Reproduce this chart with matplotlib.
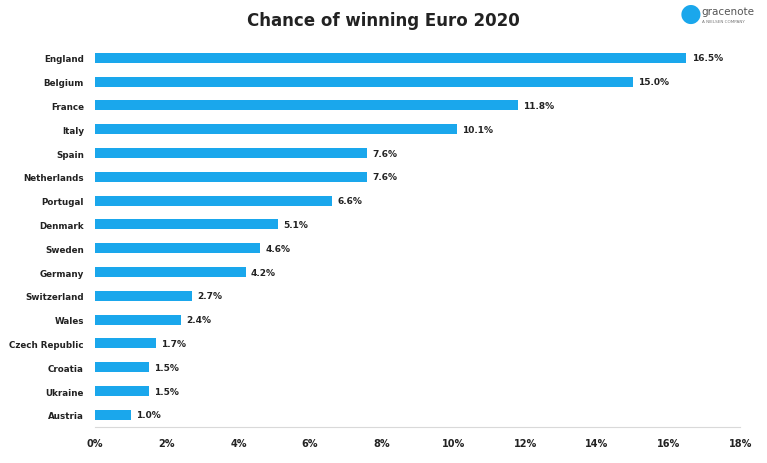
import matplotlib.pyplot as plt
from matplotlib.ticker import FuncFormatter

teams = ['England', 'Belgium', 'France', 'Italy', 'Spain', 'Netherlands', 'Portugal',
         'Denmark', 'Sweden', 'Germany', 'Switzerland', 'Wales', 'Czech Republic',
         'Croatia', 'Ukraine', 'Austria']
chances = [16.5, 15.0, 11.8, 10.1, 7.6, 7.6, 6.6, 5.1, 4.6, 4.2, 2.7, 2.4, 1.7, 1.5, 1.5, 1.0]
xticks = [0, 2, 4, 6, 8, 10, 12, 14, 16, 18]

fig = plt.figure(figsize=(7.67, 4.64), dpi=100)
ax = fig.add_axes([0.124, 0.078, 0.841, 0.821])

pos = list(range(len(teams)))[::-1]
ax.barh(pos, chances, height=0.42, color='#1aa7ec')
for p, v in zip(pos, chances):
    ax.text(v + 0.15, p, f'{v:.1f}%', va='center', ha='left', fontsize=6.5, fontweight='bold', color='#222222')

ax.set_yticks(pos)
ax.set_yticklabels(teams, fontsize=6.3, fontweight='bold', color='#222222')
ax.set_xticks(xticks)
ax.xaxis.set_major_formatter(FuncFormatter(lambda x, _: f'{x:.0f}%'))
ax.tick_params(axis='x', labelsize=7, colors='#222222', length=0, pad=8)
ax.tick_params(axis='y', length=0, pad=8)
for lbl in ax.get_xticklabels():
    lbl.set_fontweight('bold')
ax.set_xlim(0, 18)
ax.set_ylim(-0.5, len(teams) - 0.5)
for s in ['top', 'right', 'left']:
    ax.spines[s].set_visible(False)
ax.spines['bottom'].set_color('#d9d9d9')

fig.text(0.5, 0.955, 'Chance of winning Euro 2020', ha='center', va='center',
         fontsize=12, fontweight='bold', color='#222222')
fig.text(0.9, 0.97, '●', ha='center', va='center', fontsize=18, color='#1aa7ec')
fig.text(0.915, 0.975, 'gracenote', ha='left', va='center', fontsize=7.5, color='#555555')
fig.text(0.915, 0.952, 'A NIELSEN COMPANY', ha='left', va='center', fontsize=3, color='#777777')

plt.savefig('out.png', dpi=100)
